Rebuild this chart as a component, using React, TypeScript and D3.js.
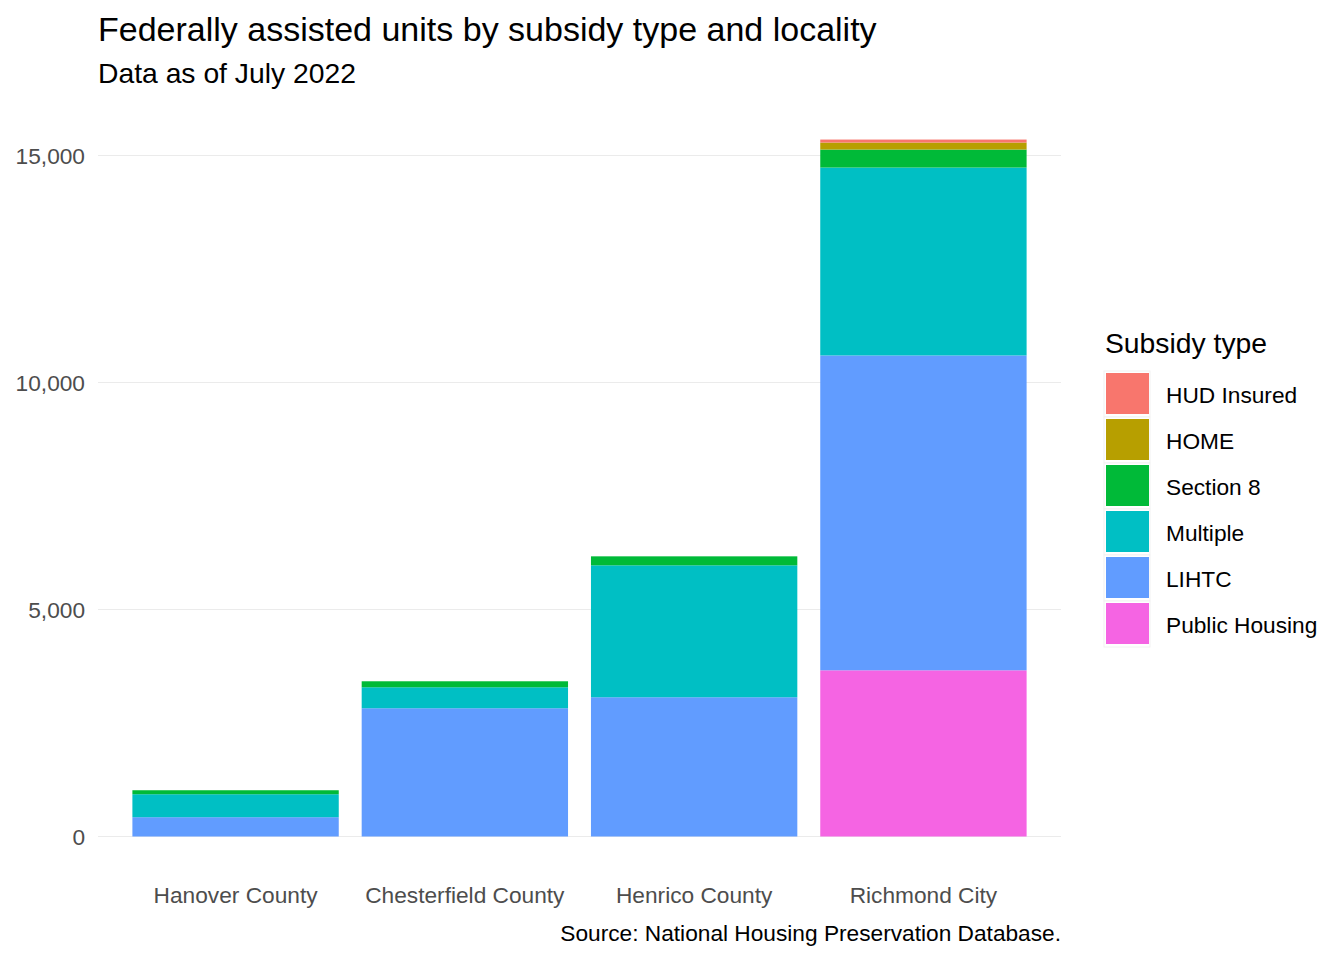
import React from "react";
import * as d3 from "d3";

// Federally assisted units
const localities = ["Hanover County", "Chesterfield County", "Henrico County", "Richmond City"];
const subsidyTypes = ["Public Housing", "LIHTC", "Multiple", "Section 8", "HOME", "HUD Insured"];

const publicHousing = [0, 0, 0, 3661];
const lihtc = [425, 2825, 3067, 6935];
const multiple = [506, 462, 2906, 4139];
const section8 = [88, 132, 198, 396];
const home = [0, 0, 0, 154];
const hudInsured = [0, 0, 0, 66];

const yTicks = [0, 5000, 10000, 15000];

const colors: Record<string, string> = {
  "HUD Insured": "#F8766D",
  HOME: "#B79F00",
  "Section 8": "#00BA38",
  Multiple: "#00BFC4",
  LIHTC: "#619CFF",
  "Public Housing": "#F564E3",
};

const FONT = "'Liberation Sans', Arial, sans-serif";

export default function App() {
  const width = 1344;
  const height = 960;

  const rows = localities.map((loc, i) => ({
    locality: loc,
    "Public Housing": publicHousing[i],
    LIHTC: lihtc[i],
    Multiple: multiple[i],
    "Section 8": section8[i],
    HOME: home[i],
    "HUD Insured": hudInsured[i],
  }));

  const stacked = d3.stack<any>().keys(subsidyTypes)(rows);

  const x = d3
    .scaleBand()
    .domain(localities)
    .range([98, 1061])
    .paddingInner(0.1)
    .paddingOuter(0.15);

  const y = d3.scaleLinear().domain([0, 15000]).range([836.5, 155.5]);
  const fmt = d3.format(",");

  // legend lists top layer first
  const legendItems = [...subsidyTypes].reverse();

  return (
    <svg width={width} height={height} style={{ position: "absolute", left: 0, top: 0, background: "#fff" }}>
      <rect width={width} height={height} fill="#fff" />

      {/* gridlines */}
      {yTicks.map((t) => (
        <line key={t} x1={98} x2={1061} y1={y(t)} y2={y(t)} stroke="#EBEBEB" strokeWidth={1.1} />
      ))}

      {/* bars */}
      {stacked.map((layer) => (
        <g key={layer.key} fill={colors[layer.key]}>
          {layer.map((d, i) =>
            d[1] - d[0] > 0 ? (
              <rect
                key={i}
                x={x(localities[i])}
                width={x.bandwidth()}
                y={y(d[1])}
                height={y(d[0]) - y(d[1])}
              />
            ) : null
          )}
        </g>
      ))}

      {/* y axis labels */}
      {yTicks.map((t) => (
        <text
          key={t}
          x={85}
          y={y(t)}
          dy="0.36em"
          textAnchor="end"
          fontFamily={FONT}
          fontSize={22.7}
          fill="#4D4D4D"
        >
          {fmt(t)}
        </text>
      ))}

      {/* x axis labels */}
      {localities.map((l) => (
        <text
          key={l}
          x={(x(l) as number) + x.bandwidth() / 2}
          y={903}
          textAnchor="middle"
          fontFamily={FONT}
          fontSize={22.7}
          fill="#4D4D4D"
        >
          {l}
        </text>
      ))}

      {/* titles */}
      <text x={98} y={41} fontFamily={FONT} fontSize={34} fill="#000">
        Federally assisted units by subsidy type and locality
      </text>
      <text x={98} y={83} fontFamily={FONT} fontSize={28.3} fill="#000">
        Data as of July 2022
      </text>
      <text x={1061} y={941} textAnchor="end" fontFamily={FONT} fontSize={22.7} fill="#000">
        Source: National Housing Preservation Database.
      </text>

      {/* legend */}
      <text x={1105} y={353} fontFamily={FONT} fontSize={28.3} fill="#000">
        Subsidy type
      </text>
      {legendItems.map((k, i) => (
        <g key={k} transform={`translate(1104,${371 + i * 46})`}>
          <rect x={0} y={0} width={46} height={46} fill="#fff" stroke="#F2F2F2" strokeWidth={1} />
          <rect x={2} y={2} width={43} height={41} fill={colors[k]} />
          <text x={62} y={32} fontFamily={FONT} fontSize={22.7} fill="#000">
            {k}
          </text>
        </g>
      ))}
    </svg>
  );
}
